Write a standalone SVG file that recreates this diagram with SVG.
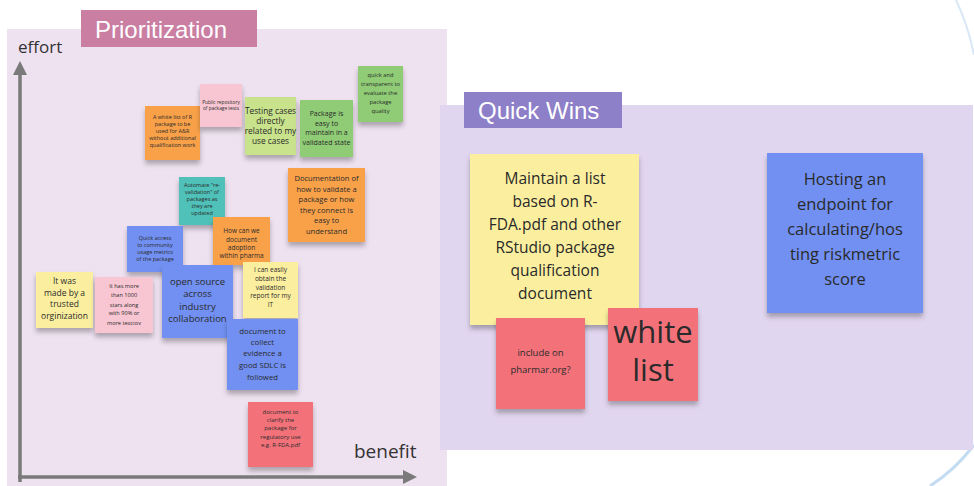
<svg xmlns="http://www.w3.org/2000/svg" width="974" height="486" viewBox="0 0 974 486">
<defs>
<filter id="sh" x="-20%" y="-20%" width="140%" height="150%">
<feDropShadow dx="0" dy="4" stdDeviation="2.5" flood-color="#000" flood-opacity="0.28"/>
</filter>
<marker id="ah" viewBox="0 0 10 10" refX="5" refY="5" markerWidth="4" markerHeight="4" orient="auto">
<path d="M0,0 L10,5 L0,10 z" fill="#7a7a7a"/>
</marker>
<style>
.n{filter:url(#sh)}
.t{font-family:"Open Sans","Noto Sans",sans-serif;fill:#2a2a2a;text-anchor:middle}
.lbl{font-family:"Liberation Sans",Arial,sans-serif;fill:#fff}
.ax{font-family:"Open Sans","Noto Sans",sans-serif;fill:#333}
.org{fill:#f9a148}.lpk{fill:#f8c6d2}.lgr{fill:#c8e38c}.grn{fill:#8fcc74}.tea{fill:#4fc1b8}
.yel{fill:#fbef9f}.blu{fill:#7190f2}.red{fill:#f3727a}
</style>
</defs>
<rect x="0" y="0" width="974" height="486" fill="#ffffff"/>
<path d="M956,0 Q968,25 974,55" fill="none" stroke="#d8e8f6" stroke-width="2"/>
<path d="M930,486 Q955,470 974,445" fill="none" stroke="#c4dcf2" stroke-width="3"/>

<g id="panel-prioritization">
<rect x="7" y="29" width="440" height="457" fill="#eee1f0"/>
<rect x="81" y="10" width="176" height="37" fill="#c97ea2"/>
<text class="lbl" x="95" y="38" font-size="24">Prioritization</text>
</g>
<g id="panel-quickwins">
<rect x="440" y="105" width="533" height="345" fill="#e1d6ef"/>
<rect x="464" y="92" width="158" height="36" fill="#8d80c8"/>
<text class="lbl" x="478" y="119" font-size="24">Quick Wins</text>
</g>

<g id="connectors">
<line x1="20" y1="482" x2="20" y2="68" stroke="#7a7a7a" stroke-width="3.5" marker-end="url(#ah)"/>
<line x1="18" y1="477" x2="410" y2="477" stroke="#7a7a7a" stroke-width="3.5" marker-end="url(#ah)"/>
</g>
<text class="ax" x="18" y="53" font-size="17">effort</text>
<text class="ax" x="354" y="458" font-size="19">benefit</text>

<g id="n-whitelist-r">
<rect class="n org" x="145" y="106" width="55" height="54"/>
<text class="t" font-size="5.5"><tspan x="172.5" y="119">A white list of R</tspan><tspan x="172.5" y="126">package to be</tspan><tspan x="172.5" y="133">used for A&amp;R</tspan><tspan x="172.5" y="140">without additional</tspan><tspan x="172.5" y="147">qualification work</tspan></text>
</g>
<g id="n-public-repo">
<rect class="n lpk" x="200" y="84" width="42" height="43"/>
<text class="t" font-size="4.8"><tspan x="221" y="104">Public repository</tspan><tspan x="221" y="110">of package tests</tspan></text>
</g>
<g id="n-testing-cases">
<rect class="n lgr" x="245" y="97" width="51" height="58"/>
<text class="t" font-size="8.3"><tspan x="270.5" y="114">Testing cases</tspan><tspan x="270.5" y="124">directly</tspan><tspan x="270.5" y="134">related to my</tspan><tspan x="270.5" y="144">use cases</tspan></text>
</g>
<g id="n-easy-maintain">
<rect class="n grn" x="300" y="100" width="53" height="57"/>
<text class="t" font-size="7"><tspan x="326.5" y="116">Package is</tspan><tspan x="326.5" y="125.5">easy to</tspan><tspan x="326.5" y="135">maintain in a</tspan><tspan x="326.5" y="144.5">validated state</tspan></text>
</g>
<g id="n-quick-transparent">
<rect class="n grn" x="358" y="66" width="45" height="56"/>
<text class="t" font-size="5.8"><tspan x="380.5" y="77">quick and</tspan><tspan x="380.5" y="86">transparent to</tspan><tspan x="380.5" y="95">evaluate the</tspan><tspan x="380.5" y="104">package</tspan><tspan x="380.5" y="113">quality</tspan></text>
</g>
<g id="n-documentation">
<rect class="n org" x="288" y="168" width="77" height="74"/>
<text class="t" font-size="7.6"><tspan x="326.5" y="181">Documentation of</tspan><tspan x="326.5" y="191.5">how to validate a</tspan><tspan x="326.5" y="202">package or how</tspan><tspan x="326.5" y="212.5">they connect is</tspan><tspan x="326.5" y="223">easy to</tspan><tspan x="326.5" y="233.5">understand</tspan></text>
</g>
<g id="n-automate">
<rect class="n tea" x="179" y="177" width="46" height="48"/>
<text class="t" font-size="5.5"><tspan x="202" y="187">Automate "re-</tspan><tspan x="202" y="194">validation" of</tspan><tspan x="202" y="201">packages as</tspan><tspan x="202" y="208">they are</tspan><tspan x="202" y="215">updated</tspan></text>
</g>
<g id="n-adoption">
<rect class="n org" x="213" y="217" width="57" height="48"/>
<text class="t" font-size="6.5"><tspan x="241.5" y="233">How can we</tspan><tspan x="241.5" y="241.5">document</tspan><tspan x="241.5" y="250">adoption</tspan><tspan x="241.5" y="258">within pharma</tspan></text>
</g>
<g id="n-validation-report">
<rect class="n yel" x="243" y="262" width="55" height="56"/>
<text class="t" font-size="6.5"><tspan x="270.5" y="272">I can easily</tspan><tspan x="270.5" y="281">obtain the</tspan><tspan x="270.5" y="289.5">validation</tspan><tspan x="270.5" y="298">report for my</tspan><tspan x="270.5" y="307">IT</tspan></text>
</g>
<g id="n-quick-access">
<rect class="n blu" x="127" y="226" width="56" height="46"/>
<text class="t" font-size="5.5"><tspan x="155" y="240">Quick access</tspan><tspan x="155" y="247">to community</tspan><tspan x="155" y="254">usage metrics</tspan><tspan x="155" y="261">of the package</tspan></text>
</g>
<g id="n-open-source">
<rect class="n blu" x="162" y="265" width="71" height="73"/>
<text class="t" font-size="9.5"><tspan x="197.5" y="285">open source</tspan><tspan x="197.5" y="297">across</tspan><tspan x="197.5" y="310">industry</tspan><tspan x="197.5" y="322">collaboration</tspan></text>
</g>
<g id="n-sdlc">
<rect class="n blu" x="227" y="319" width="71" height="71"/>
<text class="t" font-size="7.8"><tspan x="262.5" y="334">document to</tspan><tspan x="262.5" y="345">collect</tspan><tspan x="262.5" y="356">evidence a</tspan><tspan x="262.5" y="368">good SDLC is</tspan><tspan x="262.5" y="380">followed</tspan></text>
</g>
<g id="n-regulatory">
<rect class="n red" x="248" y="402" width="65" height="65"/>
<text class="t" font-size="6"><tspan x="280.5" y="414">document to</tspan><tspan x="280.5" y="422">clarify the</tspan><tspan x="280.5" y="430">package for</tspan><tspan x="280.5" y="438.5">regulatory use</tspan><tspan x="280.5" y="447">e.g. R-FDA.pdf</tspan></text>
</g>
<g id="n-trusted">
<rect class="n yel" x="36" y="272" width="57" height="56"/>
<text class="t" font-size="8.5"><tspan x="64.5" y="284">It was</tspan><tspan x="64.5" y="296">made by a</tspan><tspan x="64.5" y="307">trusted</tspan><tspan x="64.5" y="319">orginization</tspan></text>
</g>
<g id="n-stars">
<rect class="n lpk" x="95" y="277" width="58" height="56"/>
<text class="t" font-size="5.6"><tspan x="124" y="288">It has more</tspan><tspan x="124" y="297">than 1000</tspan><tspan x="124" y="307">stars along</tspan><tspan x="124" y="315">with 90% or</tspan><tspan x="124" y="325">more testcov</tspan></text>
</g>

<g id="n-maintain-list">
<rect class="n yel" x="470" y="154" width="169" height="171"/>
<text class="t" font-size="15.5"><tspan x="555" y="184">Maintain a list</tspan><tspan x="555" y="207">based on R-</tspan><tspan x="555" y="230">FDA.pdf and other</tspan><tspan x="555" y="253">RStudio package</tspan><tspan x="555" y="276">qualification</tspan><tspan x="555" y="299">document</tspan></text>
</g>
<g id="n-pharmar">
<rect class="n red" x="496" y="318" width="89" height="91"/>
<text class="t" font-size="9.5"><tspan x="540.5" y="356">include on</tspan><tspan x="540.5" y="373">pharmar.org?</tspan></text>
</g>
<g id="n-white-list">
<rect class="n red" x="608" y="308" width="90" height="93"/>
<text class="t" font-size="31" fill="#222"><tspan x="653" y="343">white</tspan><tspan x="653" y="381">list</tspan></text>
</g>
<g id="n-hosting">
<rect class="n blu" x="767" y="153" width="156" height="160"/>
<text class="t" font-size="16.5"><tspan x="845" y="185">Hosting an</tspan><tspan x="845" y="210">endpoint for</tspan><tspan x="845" y="235">calculating/hos</tspan><tspan x="845" y="260">ting riskmetric</tspan><tspan x="845" y="285">score</tspan></text>
</g>
</svg>
